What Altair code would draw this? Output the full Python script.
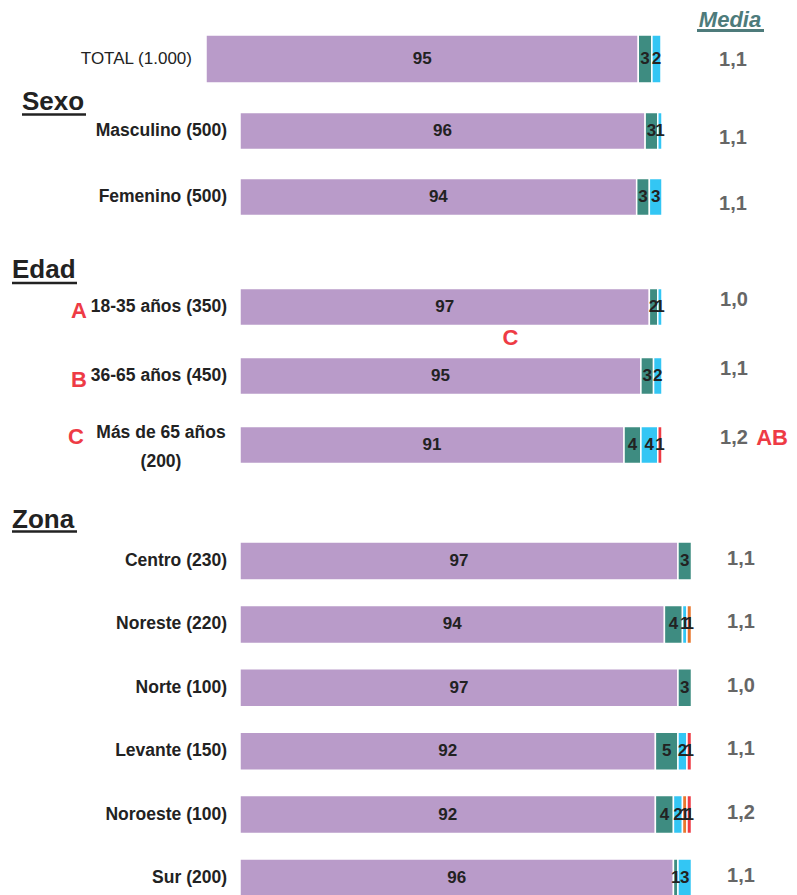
import altair as alt
import pandas as pd

# ---------------- data ----------------
labels = ["TOTAL (1.000)", "Masculino (500)", "Femenino (500)",
          "18-35 años (350)", "36-65 años (450)", "Más de 65 años (200)",
          "Centro (230)", "Noreste (220)", "Norte (100)", "Levante (150)",
          "Noroeste (100)", "Sur (200)"]
groups = ["total", "sexo", "sexo", "edad", "edad", "edad",
          "zona", "zona", "zona", "zona", "zona", "zona"]
cat1 = [95, 96, 94, 97, 95, 91, 97, 94, 97, 92, 92, 96]
cat2 = [3, 3, 3, 2, 3, 4, 3, 4, 3, 5, 4, 1]
cat3 = [2, 1, 3, 1, 2, 4, 0, 1, 0, 2, 2, 3]
cat4 = [0, 0, 0, 0, 0, 0, 0, 1, 0, 0, 1, 0]
cat5 = [0, 0, 0, 0, 0, 1, 0, 0, 0, 1, 1, 0]
media = ["1,1", "1,1", "1,1", "1,0", "1,1", "1,2",
         "1,1", "1,1", "1,0", "1,1", "1,2", "1,1"]
sig_left = ["", "", "", "A", "B", "C", "", "", "", "", "", ""]
sig_below = ["", "", "", "C", "", "", "", "", "", "", "", ""]
sig_right = ["", "", "", "", "", "AB", "", "", "", "", "", ""]
cats = ["1", "2", "3", "4", "5"]
cat_colors = ["#b99bc9", "#3e8c81", "#33c6f4", "#e8772e", "#ee3b45"]
headings = ["Sexo", "Edad", "Zona"]
media_title = "Media"

# ---------------- tables ----------------
long_rows = []
for i, lab in enumerate(labels):
    for c, vals in zip(cats, [cat1, cat2, cat3, cat4, cat5]):
        long_rows.append({"row": lab, "group": groups[i], "cat": c,
                          "order": int(c), "value": vals[i]})
seg_df = pd.DataFrame(long_rows)
row_df = pd.DataFrame({"row": labels, "group": groups, "media": media,
                       "sigL": sig_left, "sigB": sig_below, "sigR": sig_right})

NARROW = "Liberation Sans Narrow, Arial Narrow, Liberation Sans, sans-serif"
SANS = "Liberation Sans, Arial, sans-serif"
RED = "#ee3b45"
TWO_LINE = "Más de 65 años (200)"

# per-group layout (chart coordinates = page - 8)
layout = {
    "total": dict(y=[27, 75], pi=0.0, x=[198, 653], lab_x=184, media_x=725, mdy=1),
    "sexo": dict(y=[90, 222], pi=0.44, x=[232, 654], lab_x=219, media_x=725, mdy=7),
    "edad": dict(y=[264.5, 471.5], pi=0.464, x=[232, 654], lab_x=219, media_x=726, mdy=-7),
    "zona": dict(y=[521.3, 901.7], pi=0.40, x=[232, 683.5], lab_x=219, media_x=733, mdy=-2),
}

color = alt.Color("cat:N", scale=alt.Scale(domain=cats, range=cat_colors), legend=None)

group_layers = []
for g, L in layout.items():
    rows_g = [l for l, gg in zip(labels, groups) if gg == g]
    ys = alt.Scale(domain=rows_g, range=L["y"], paddingInner=L["pi"],
                   paddingOuter=L["pi"] / 2)
    xs = alt.Scale(domain=[0, 100], range=L["x"], zero=True, nice=False)
    Y = alt.Y("row:N", scale=ys, axis=None)

    segs = (alt.Chart(seg_df)
            .transform_filter(alt.datum.group == g)
            .transform_filter("datum.value > 0")
            .transform_stack(stack="value", groupby=["row"], as_=["x0", "x1"],
                             sort=[alt.SortField("order", order="ascending")])
            .transform_calculate(mid="(datum.x0 + datum.x1) / 2"))
    bars = segs.mark_bar(stroke="white", strokeWidth=1.5).encode(
        x=alt.X("x0:Q", scale=xs, axis=None), x2="x1:Q", y=Y, color=color)
    seg_txt = segs.mark_text(font=NARROW, fontSize=17, fontWeight="bold",
                             color="#222222", baseline="middle").encode(
        x=alt.X("mid:Q", scale=xs, axis=None), y=Y, text="value:Q")

    rbase = alt.Chart(row_df).transform_filter(alt.datum.group == g)
    layers = [bars, seg_txt]

    if g == "total":
        layers.append(rbase.mark_text(font=NARROW, fontSize=17, align="right",
                                      baseline="middle", color="#222222").encode(
            y=Y, x=alt.value(L["lab_x"]), text="row:N"))
    else:
        layers.append(rbase.transform_filter(alt.datum.row != TWO_LINE)
                      .mark_text(font=NARROW, fontSize=17.5, fontWeight="bold", align="right",
                                 baseline="middle", color="#222222").encode(
            y=Y, x=alt.value(L["lab_x"]), text="row:N"))
    if g == "edad":
        two = (rbase.transform_filter(alt.datum.row == TWO_LINE)
               .transform_calculate(lab2="replace(datum.row, ' (', '\\n(')"))
        layers.append(two.mark_text(font=NARROW, fontSize=17.5, fontWeight="bold",
                                    align="center", baseline="middle", lineBreak="\n",
                                    lineHeight=29, dy=-12, color="#222222").encode(
            y=Y, x=alt.value(153), text="lab2:N"))
        layers.append(rbase.transform_filter(f"datum.sigL != '' && datum.row != '{TWO_LINE}'")
                      .mark_text(font=SANS, fontSize=22, fontWeight="bold", color=RED,
                                 align="center", baseline="middle", dy=4).encode(
            y=Y, x=alt.value(71), text="sigL:N"))
        layers.append(rbase.transform_filter(alt.datum.row == TWO_LINE)
                      .mark_text(font=SANS, fontSize=22, fontWeight="bold", color=RED,
                                 align="center", baseline="middle", dy=-8).encode(
            y=Y, x=alt.value(68), text="sigL:N"))
        layers.append(rbase.transform_filter("datum.sigB != ''")
                      .mark_text(font=SANS, fontSize=22, fontWeight="bold", color=RED,
                                 align="center", baseline="middle", dy=31).encode(
            y=Y, x=alt.value(502.5), text="sigB:N"))
        layers.append(rbase.transform_filter("datum.sigR != ''")
                      .mark_text(font=SANS, fontSize=22, fontWeight="bold", color=RED,
                                 align="right", baseline="middle", dy=L["mdy"]).encode(
            y=Y, x=alt.value(780), text="sigR:N"))

    layers.append(rbase.mark_text(font=SANS, fontSize=20, fontWeight="bold",
                                  color="#666666", align="center", baseline="middle",
                                  dy=L["mdy"]).encode(
        y=Y, x=alt.value(L["media_x"]), text="media:N"))

    group_layers.append(alt.layer(*layers))

# headings and decorations
one = pd.DataFrame({"t": [media_title]})
deco = []
deco.append(alt.Chart(one).mark_text(font=SANS, fontSize=22, fontWeight="bold",
                                     fontStyle="italic", color="#4d7b7b",
                                     align="center", baseline="alphabetic").encode(
    x=alt.value(722), y=alt.value(19), text="t:N"))
deco.append(alt.Chart(one).mark_rule(color="#4d7b7b", strokeWidth=3).encode(
    x=alt.value(689), x2=alt.value(756), y=alt.value(22.5)))

head_pos = {"Sexo": (14, 102, 78, 106.5), "Edad": (4, 270, 69, 275),
            "Zona": (4, 520, 69, 523.5)}
for h in headings:
    x0, yb, x1, yu = head_pos[h]
    hd = pd.DataFrame({"t": [h]})
    deco.append(alt.Chart(hd).mark_text(font=SANS, fontSize=26, fontWeight="bold",
                                        color="#222222", align="left",
                                        baseline="alphabetic").encode(
        x=alt.value(x0), y=alt.value(yb), text="t:N"))
    deco.append(alt.Chart(hd).mark_rule(color="#222222", strokeWidth=2.5).encode(
        x=alt.value(x0), x2=alt.value(x1), y=alt.value(yu)))

chart = (alt.layer(*group_layers, *deco)
         .resolve_scale(x="independent", y="independent")
         .properties(width=781, height=887, autosize="none", padding=0,
                     background="white")
         .configure_view(stroke=None))

chart.save("out.html", embed_options={"renderer": "svg", "actions": False})
